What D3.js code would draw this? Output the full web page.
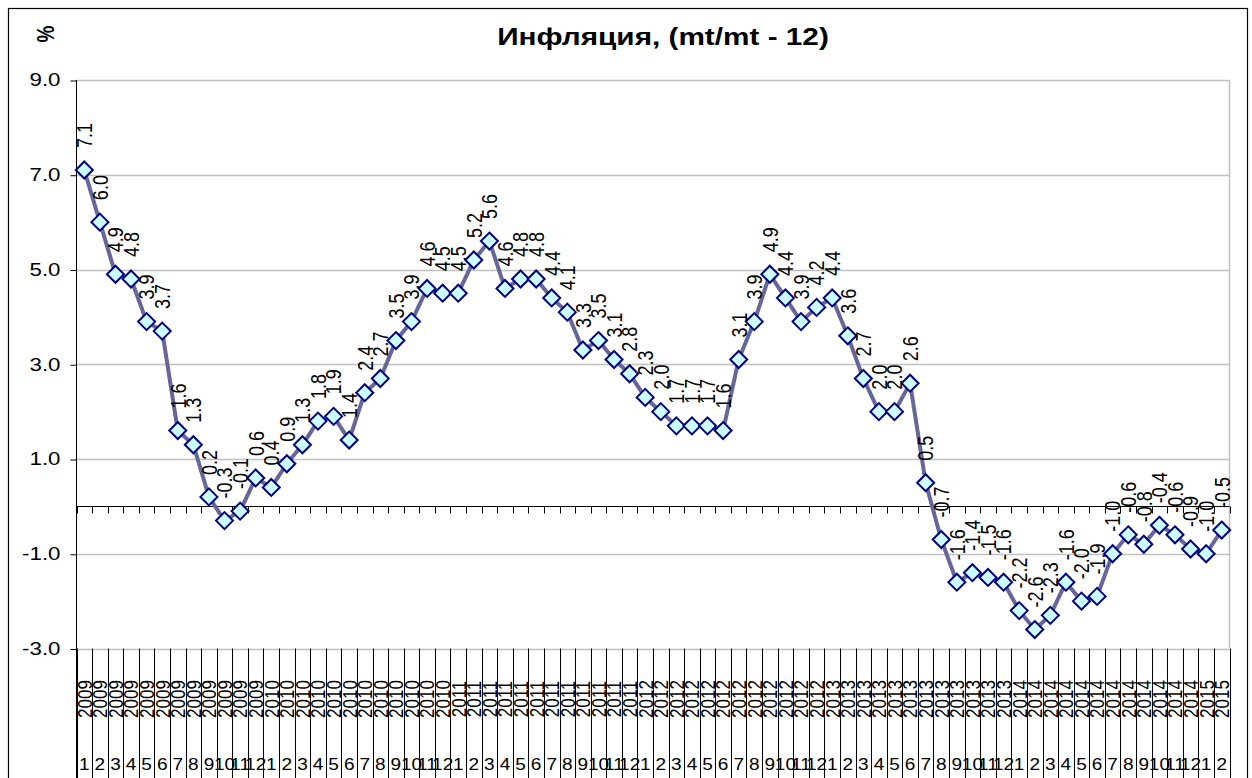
<!DOCTYPE html>
<html>
<head>
<meta charset="utf-8">
<script src="https://cdn.jsdelivr.net/npm/d3@7"></script>
<style>
    body { margin: 0; background: #fff; }
    svg text { font-family: Arial, "Liberation Sans", sans-serif; }
</style>
</head>
<body>
<div id="chart"></div>
<script>
// Monthly inflation, year over year (%)
const years = ["2009", "2010", "2011", "2012", "2013", "2014", "2015"];
const months = ["1", "2", "3", "4", "5", "6", "7", "8", "9", "10", "11", "12"];

const values2009 = [7.1, 6.0, 4.9, 4.8, 3.9, 3.7, 1.6, 1.3, 0.2, -0.3, -0.1, 0.6];
const values2010 = [0.4, 0.9, 1.3, 1.8, 1.9, 1.4, 2.4, 2.7, 3.5, 3.9, 4.6, 4.5];
const values2011 = [4.5, 5.2, 5.6, 4.6, 4.8, 4.8, 4.4, 4.1, 3.3, 3.5, 3.1, 2.8];
const values2012 = [2.3, 2.0, 1.7, 1.7, 1.7, 1.6, 3.1, 3.9, 4.9, 4.4, 3.9, 4.2];
const values2013 = [4.4, 3.6, 2.7, 2.0, 2.0, 2.6, 0.5, -0.7, -1.6, -1.4, -1.5, -1.6];
const values2014 = [-2.2, -2.6, -2.3, -1.6, -2.0, -1.9, -1.0, -0.6, -0.8, -0.4, -0.6, -0.9];
const values2015 = [-1.0, -0.5];

const yTicks = [-3, -1, 1, 3, 5, 7, 9];

// Flatten into one series of {year, month, value}
const series = [values2009, values2010, values2011, values2012, values2013, values2014, values2015];
const data = [];
series.forEach((vals, i) => {
    vals.forEach((v, j) => data.push({ year: years[i], month: months[j], value: v, key: years[i] + "-" + months[j] }));
});

const fmt = v => v.toFixed(1);   // plain hyphen minus, like the original

const width = 1252;
const height = 778;
const plot = { left: 76.5, right: 1229.5, top: 80, bottom: 648.5 };
const sx = 1.24;   // the original picture is stretched horizontally

const svg = d3.select("#chart")
    .append("svg")
    .attr("width", width)
    .attr("height", height);

// Outer chart border
svg.append("rect")
    .attr("x", 8.5)
    .attr("y", 8.5)
    .attr("width", 1239)
    .attr("height", 800)
    .attr("fill", "#fff")
    .attr("stroke", "#000")
    .attr("stroke-width", 1.2);

const x = d3.scaleBand()
    .domain(data.map(d => d.key))
    .range([plot.left, plot.right])
    .padding(0);

const y = d3.scaleLinear()
    .domain([-3, 9])
    .range([plot.bottom, plot.top]);

const cx = d => x(d.key) + x.bandwidth() / 2;

// Gridlines
svg.append("g")
    .attr("class", "grid")
    .selectAll("line")
    .data(yTicks)
    .enter().append("line")
    .attr("x1", plot.left)
    .attr("x2", plot.right)
    .attr("y1", d => Math.round(y(d)) + 0.5)
    .attr("y2", d => Math.round(y(d)) + 0.5)
    .attr("stroke", "#c0c0c0")
    .attr("stroke-width", 1.5);

// Right side of plot frame
svg.append("line")
    .attr("x1", plot.right)
    .attr("x2", plot.right)
    .attr("y1", plot.top)
    .attr("y2", plot.bottom)
    .attr("stroke", "#c0c0c0")
    .attr("stroke-width", 1.5);

// Y axis
const yAxis = svg.append("g")
    .attr("transform", `translate(${plot.left},0)`)
    .call(d3.axisLeft(y)
        .tickValues(yTicks)
        .tickFormat(fmt)
        .tickSize(6)
        .tickSizeOuter(0));
yAxis.select(".domain").remove();
yAxis.selectAll(".tick line")
    .attr("stroke", "#000")
    .attr("transform", "translate(0,0.5)");
yAxis.selectAll(".tick text")
    .attr("x", null)
    .attr("transform", `translate(-16,0) scale(${sx},1)`)
    .attr("font-size", "18px")
    .attr("font-family", "Arial, 'Liberation Sans', sans-serif")
    .attr("fill", "#000");

// Y axis line, continuing through the category area
svg.append("line")
    .attr("x1", plot.left)
    .attr("x2", plot.left)
    .attr("y1", plot.top)
    .attr("y2", height)
    .attr("stroke", "#000")
    .attr("stroke-width", 1);

// Zero line with boundary ticks
const zeroY = Math.round(y(0)) + 0.5;
svg.append("line")
    .attr("x1", plot.left)
    .attr("x2", plot.right)
    .attr("y1", zeroY)
    .attr("y2", zeroY)
    .attr("stroke", "#000")
    .attr("stroke-width", 1);

const boundaries = data.map(d => x(d.key)).concat([plot.right]);
svg.append("g")
    .selectAll("line")
    .data(boundaries)
    .enter().append("line")
    .attr("x1", d => Math.round(d) + 0.5)
    .attr("x2", d => Math.round(d) + 0.5)
    .attr("y1", zeroY)
    .attr("y2", zeroY + 7)
    .attr("stroke", "#000");

// Category separators below the plot
svg.append("g")
    .selectAll("line")
    .data(boundaries)
    .enter().append("line")
    .attr("x1", d => Math.round(d) + 0.5)
    .attr("x2", d => Math.round(d) + 0.5)
    .attr("y1", plot.bottom)
    .attr("y2", height)
    .attr("stroke", "#000")
    .attr("stroke-width", 1);

// Year labels (rotated)
svg.append("g")
    .selectAll("text")
    .data(data)
    .enter().append("text")
    .attr("transform", d => `translate(${cx(d)},699) scale(${sx},1) rotate(-90)`)
    .attr("text-anchor", "middle")
    .attr("dy", "0.35em")
    .attr("font-size", "17px")
    .attr("fill", "#000")
    .text(d => d.year);

// Month labels
svg.append("g")
    .selectAll("text")
    .data(data)
    .enter().append("text")
    .attr("transform", d => `translate(${cx(d)},770) scale(1.12,1)`)
    .attr("text-anchor", "middle")
    .attr("font-size", "17px")
    .attr("fill", "#000")
    .text(d => d.month);

// Line
const line = d3.line()
    .x(cx)
    .y(d => y(d.value));

svg.append("path")
    .datum(data)
    .attr("d", line)
    .attr("fill", "none")
    .attr("stroke", "#666699")
    .attr("stroke-width", 4)
    .attr("stroke-linejoin", "round");

// Diamond markers
svg.append("g")
    .selectAll("path")
    .data(data)
    .enter().append("path")
    .attr("d", "M0,-8.5L8.5,0L0,8.5L-8.5,0Z")
    .attr("transform", d => `translate(${cx(d)},${y(d.value)})`)
    .attr("fill", "#ccffff")
    .attr("stroke", "#000080")
    .attr("stroke-width", 2);

// Data labels, rotated, above each point
svg.append("g")
    .selectAll("text")
    .data(data)
    .enter().append("text")
    .attr("transform", d => `translate(${cx(d)},${y(d.value) - 22}) scale(${sx},1) rotate(-90)`)
    .attr("text-anchor", "start")
    .attr("dy", "0.35em")
    .attr("font-size", "18px")
    .attr("fill", "#000")
    .text(d => fmt(d.value));

// Title
svg.append("text")
    .attr("transform", `translate(663,45) scale(${sx},1)`)
    .attr("text-anchor", "middle")
    .attr("font-size", "24px")
    .attr("font-weight", "bold")
    .attr("fill", "#000")
    .text("Инфляция, (mt/mt - 12)");

// Unit label
svg.append("text")
    .attr("transform", `translate(46,34) scale(${sx},1) rotate(-90)`)
    .attr("text-anchor", "middle")
    .attr("dy", "0.35em")
    .attr("font-size", "19px")
    .attr("font-weight", "bold")
    .attr("fill", "#000")
    .text("%");
</script>
</body>
</html>
